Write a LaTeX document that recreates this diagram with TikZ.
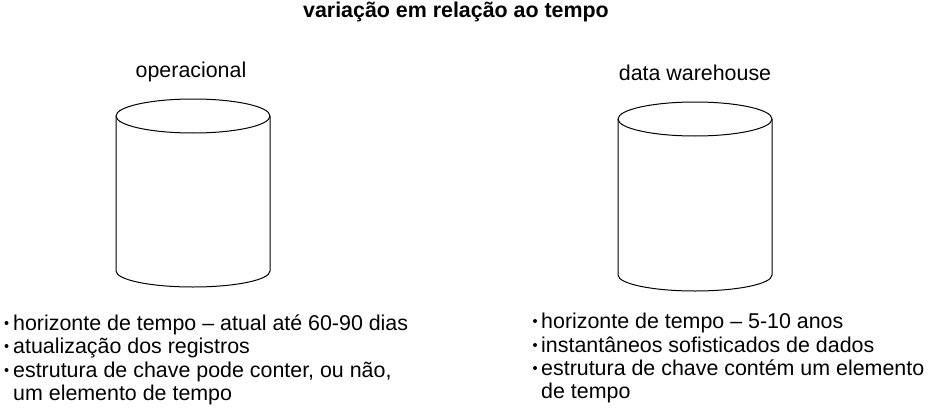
\documentclass[tikz,border=0pt]{standalone}
\usepackage{fontspec}
\setmainfont{Liberation Sans}
\usetikzlibrary{positioning}

\tikzset{
	texto/.style={font=\fontsize{21.4}{23}\selectfont, inner sep=0pt, anchor=base},
	item/.style={font=\fontsize{21.4}{23}\selectfont, inner sep=0pt, anchor=base west},
	cilindro/.style={line width=1pt, line join=round},
}

\begin{document}
\begin{tikzpicture}[x=1pt,y=1pt]
	
	% page
	\useasboundingbox (0,0) rectangle (941,416);
	
	% title
	\node[texto, font=\fontsize{21.4}{23}\selectfont\bfseries] (titulo) at (456,398) {variação em relação ao tempo};
	
	% operational database
	\draw[cilindro] (116,300) -- (116,145) arc[start angle=180, end angle=360, x radius=77, y radius=16] -- (270,300);
	\draw[cilindro] (193,300) ellipse[x radius=77, y radius=17];
	\node[texto] (operacional) at (191,338) {operacional};
	
	% data warehouse
	\draw[cilindro] (618,297) -- (618,141) arc[start angle=180, end angle=360, x radius=77, y radius=16] -- (772,297);
	\draw[cilindro] (695,297) ellipse[x radius=77, y radius=17];
	\node[texto] (dw) at (695,336) {data warehouse};
	
	% left list
	\node[item] (op1) at (13,86) {horizonte de tempo -- atual até 60-90 dias};
	\node[item] (op2) at (13,63) {atualização dos registros};
	\node[item] (op3) at (13,39) {estrutura de chave pode conter, ou não,};
	\node[item] (op4) at (13,16) {um elemento de tempo};
	\fill (6.5,93) circle (2);
	\fill (6.5,70) circle (2);
	\fill (6.5,46) circle (2);
	
	% right list
	\node[item] (dw1) at (541,88) {horizonte de tempo -- 5-10 anos};
	\node[item] (dw2) at (541,64) {instantâneos sofisticados de dados};
	\node[item] (dw3) at (541,41) {estrutura de chave contém um elemento};
	\node[item] (dw4) at (541,18) {de tempo};
	\fill (535,95) circle (2);
	\fill (535,71) circle (2);
	\fill (535,48) circle (2);
	
\end{tikzpicture}
\end{document}
